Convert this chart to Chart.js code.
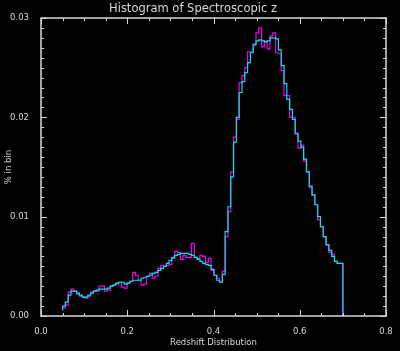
<!DOCTYPE html>
<html>
<head>
<meta charset="utf-8">
<script src="https://cdn.jsdelivr.net/npm/chart.js@4.4.1/dist/chart.umd.min.js"></script>
<style>
  body { margin: 0; background: #000; }
  #box { width: 400px; height: 351px; }
</style>
</head>
<body>
<div id="box"><canvas id="graphic"></canvas></div>
<script>
const ctx = document.getElementById('graphic');

const binStart = 0.05;
const binWidth = 0.0065;

const cyanPct = [
    0.0006, 0.0010, 0.0014, 0.0021, 0.0025, 0.0025, 0.0023, 0.0021, 0.0019, 0.0019,
    0.0021, 0.0023, 0.0025, 0.0026, 0.0027, 0.0027, 0.0027, 0.0028, 0.0030, 0.0031,
    0.0033, 0.0034, 0.0034, 0.0032, 0.0033, 0.0035, 0.0036, 0.0036, 0.0036, 0.0038,
    0.0039, 0.0040, 0.0041, 0.0043, 0.0044, 0.0046, 0.0048, 0.0050, 0.0053, 0.0056,
    0.0059, 0.0061, 0.0062, 0.0063, 0.0063, 0.0063, 0.0062, 0.0061, 0.0059, 0.0057,
    0.0055, 0.0053, 0.0052, 0.0051, 0.0047, 0.0041, 0.0036, 0.0034, 0.0042, 0.0085,
    0.0110, 0.0140, 0.0175, 0.0200, 0.0225, 0.0236, 0.0245, 0.0255, 0.0265, 0.0273,
    0.0277, 0.0278, 0.0277, 0.0276, 0.0277, 0.0280, 0.0280, 0.0279, 0.0268, 0.0252,
    0.0234, 0.0218, 0.0208, 0.0198, 0.0184, 0.0176, 0.0170, 0.0158, 0.0145, 0.0130,
    0.0122, 0.0112, 0.0100, 0.0090, 0.0080, 0.0072, 0.0066, 0.0060, 0.0055, 0.0053
];

const magentaPct = [
    0.0005, 0.0008, 0.0011, 0.0024, 0.0027, 0.0025, 0.0022, 0.0020, 0.0019, 0.0018,
    0.0020, 0.0024, 0.0025, 0.0025, 0.0030, 0.0030, 0.0025, 0.0026, 0.0030, 0.0031,
    0.0032, 0.0034, 0.0029, 0.0028, 0.0033, 0.0035, 0.0044, 0.0041, 0.0036, 0.0031,
    0.0032, 0.0040, 0.0043, 0.0038, 0.0040, 0.0048, 0.0051, 0.0050, 0.0051, 0.0052,
    0.0058, 0.0065, 0.0064, 0.0057, 0.0061, 0.0059, 0.0059, 0.0073, 0.0059, 0.0058,
    0.0061, 0.0060, 0.0054, 0.0058, 0.0046, 0.0041, 0.0038, 0.0034, 0.0045, 0.0080,
    0.0105, 0.0145, 0.0180, 0.0198, 0.0235, 0.0242, 0.0250, 0.0266, 0.0266, 0.0274,
    0.0285, 0.0290, 0.0271, 0.0276, 0.0269, 0.0282, 0.0285, 0.0265, 0.0264, 0.0247,
    0.0222, 0.0222, 0.0200, 0.0200, 0.0183, 0.0169, 0.0172, 0.0156, 0.0145, 0.0131,
    0.0122, 0.0112, 0.0097, 0.0090, 0.0080, 0.0071, 0.0064, 0.0062, 0.0055, 0.0053
];

const xTicks = [0.0, 0.2, 0.4, 0.6, 0.8];
const xTickLabels = ['0.0', '0.2', '0.4', '0.6', '0.8'];
const yTicks = [0.00, 0.01, 0.02, 0.03];
const yTickLabels = ['0.00', '0.01', '0.02', '0.03'];

const fg = '#d8d8d8';
const font = { family: 'DejaVu Sans', size: 8.5 };

// histogram outline: step from each bin edge, drop to zero at the last edge
const steps = (vals) => {
    const pts = vals.map((v, i) => ({ x: binStart + i * binWidth, y: v }));
    const end = binStart + vals.length * binWidth;
    pts.push({ x: end, y: vals[vals.length - 1] }, { x: end, y: 0 });
    return pts;
};

// box round the plot with inward major and minor ticks
const frame = {
    id: 'frame',
    afterDraw(chart) {
        const { ctx, chartArea: a, scales: { x, y } } = chart;
        ctx.save();
        ctx.strokeStyle = fg;
        ctx.lineWidth = 1.5;
        ctx.strokeRect(a.left, a.top, a.right - a.left, a.bottom - a.top);
        ctx.lineWidth = 1;
        ctx.beginPath();
        for (let k = 0; k <= 16; k++) {
            const px = Math.round(x.getPixelForValue(k * 0.05)) + 0.5;
            const len = k % 4 === 0 ? 6 : 3;
            ctx.moveTo(px, a.bottom); ctx.lineTo(px, a.bottom - len);
            ctx.moveTo(px, a.top); ctx.lineTo(px, a.top + len);
        }
        for (let k = 0; k <= 30; k++) {
            const py = Math.round(y.getPixelForValue(k * 0.001)) + 0.5;
            const len = k % 10 === 0 ? 6 : 3;
            ctx.moveTo(a.left, py); ctx.lineTo(a.left + len, py);
            ctx.moveTo(a.right, py); ctx.lineTo(a.right - len, py);
        }
        ctx.stroke();
        ctx.restore();
    }
};

let grafico = new Chart(ctx, {
    type: 'line',
    data: {
        datasets: [{
            label: 'cyan',
            data: steps(cyanPct),
            borderColor: '#00e6e6',
            borderWidth: 1.2,
            stepped: 'after',
            pointRadius: 0
        }, {
            label: 'magenta',
            data: steps(magentaPct),
            borderColor: '#ee00ee',
            borderWidth: 1.2,
            stepped: 'after',
            pointRadius: 0
        }]
    },
    options: {
        responsive: true,
        maintainAspectRatio: false,
        animation: false,
        layout: { padding: { right: 14, left: 0, bottom: 0, top: 0 } },
        plugins: {
            legend: { display: false },
            tooltip: { enabled: false },
            title: {
                display: true,
                text: 'Histogram of Spectroscopic z',
                color: fg,
                font: { family: 'DejaVu Sans', size: 11.5, weight: 'normal' },
                padding: { top: 2, bottom: 2.2 }
            }
        },
        scales: {
            x: {
                type: 'linear',
                min: 0,
                max: 0.8,
                afterBuildTicks: axis => { axis.ticks = xTicks.map(v => ({ value: v })); },
                afterFit: axis => { axis.height = 35; },
                grid: { display: false },
                border: { display: false },
                ticks: {
                    color: fg,
                    font: font,
                    padding: 3,
                    maxRotation: 0,
                    callback: (v) => xTickLabels[xTicks.indexOf(v)]
                },
                title: {
                    display: true,
                    text: 'Redshift Distribution',
                    color: fg,
                    font: font,
                    padding: { top: 0, bottom: 3 }
                }
            },
            y: {
                min: 0,
                max: 0.03,
                afterBuildTicks: axis => { axis.ticks = yTicks.map(v => ({ value: v })); },
                afterFit: axis => { axis.width = 41; },
                grid: { display: false },
                border: { display: false },
                ticks: {
                    color: fg,
                    font: font,
                    padding: 4,
                    callback: (v) => yTickLabels[yTicks.indexOf(v)]
                },
                title: {
                    display: true,
                    text: '% in bin',
                    color: fg,
                    font: font,
                    padding: { top: 4, bottom: 0 }
                }
            }
        }
    },
    plugins: [frame]
});
</script>
</body>
</html>
